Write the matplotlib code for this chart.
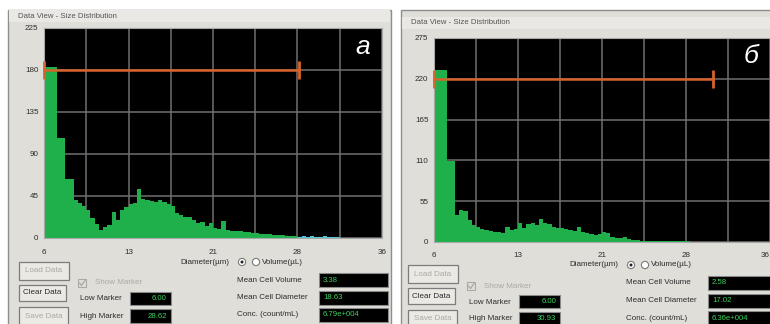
import numpy as np
import matplotlib
matplotlib.use("Agg")
import matplotlib.pyplot as plt
from matplotlib.patches import Rectangle, Circle

W, H = 770, 324

# histogram bins (diameter, um)
bin_start = 6.0
bin_width = 0.375

counts_a = [183, 183, 183, 107, 107, 63, 63, 41, 37, 34,
            30, 21, 15, 9, 12, 14, 28, 19, 30, 33,
            36, 38, 53, 42, 41, 40, 39, 41, 39, 36,
            34, 27, 25, 23, 22, 19, 16, 17, 13, 16,
            11, 10, 18, 9, 8, 8, 7, 6, 6, 5,
            5, 4, 4, 4, 3, 3, 3, 2, 2, 2,
            0, 0, 0, 0, 0, 0, 0, 0, 0, 0,
            0, 0, 0, 0, 0, 0, 0, 0, 0, 0]
cyan_start = 28.5
cyan_a = [1.5, 2, 1, 2, 1.5, 1, 2, 1, 1.5, 1]

counts_b = [232, 232, 232, 109, 109, 36, 43, 42, 30, 23,
            20, 18, 16, 15, 14, 13, 12, 20, 16, 17,
            25, 19, 24, 25, 23, 31, 26, 24, 20, 19,
            19, 17, 16, 15, 20, 13, 12, 11, 10, 11,
            13, 12, 7, 6, 5, 7, 4, 3, 3, 2,
            1, 1, 1, 1, 1, 1, 1, 1, 1, 1,
            1, 0, 0, 0, 0, 0, 0, 0, 0, 0,
            0, 0, 0, 0, 0, 0, 0, 0, 0, 0]

xticks = [6, 13.5, 21, 28.5, 36]
xtick_labels = ["6", "13", "21", "28", "36"]
yticks_a = [0, 45, 90, 135, 180, 225]
yticks_b = [0, 55, 110, 165, 220, 275]

marker_a = (6.00, 28.62, 180)
marker_b = (6.00, 30.93, 220)
low_high_a = ["6.00", "28.62"]
low_high_b = ["6.00", "30.93"]
stats_a = ["3.38", "18.63", "6.79e+004"]
stats_b = ["2.58", "17.02", "6.36e+004"]
stat_names = ["Mean Cell Volume", "Mean Cell Diameter", "Conc. (count/mL)"]

GREEN = "#1fb04c"
ORANGE = "#d8622c"
PANEL = "#dfded8"
TXT = "#2c2c2c"
GREY_TXT = "#aaaaa4"
FONT = "Liberation Sans"

fig = plt.figure(figsize=(W / 100, H / 100), dpi=100)
fig.patch.set_facecolor("white")

bg = fig.add_axes([0, 0, 1, 1])
bg.set_xlim(0, W)
bg.set_ylim(H, 0)
bg.axis("off")


def px_axes(x0, y0, x1, y1):
    return fig.add_axes([x0 / W, 1 - y1 / H, (x1 - x0) / W, (y1 - y0) / H])


def button(x0, y0, x1, y1, label, enabled):
    bg.add_patch(Rectangle((x0, y0), x1 - x0, y1 - y0, facecolor="#eae9e4",
                           edgecolor="#7c7c7c", lw=0.9))
    bg.text((x0 + x1) / 2, (y0 + y1) / 2, label, ha="center", va="center",
            fontsize=5.8, family=FONT, color=TXT if enabled else GREY_TXT)


def value_box(x0, y0, x1, y1, val, align):
    bg.add_patch(Rectangle((x0, y0), x1 - x0, y1 - y0, facecolor="black",
                           edgecolor="#8a8a8a", lw=0.8))
    if align == "right":
        bg.text(x1 - 4, (y0 + y1) / 2, val, ha="right", va="center",
                fontsize=5.6, family=FONT, color="#3bd35a")
    else:
        bg.text(x0 + 4, (y0 + y1) / 2, val, ha="left", va="center",
                fontsize=5.6, family=FONT, color="#3bd35a")


def panel(fx0, title_y, rect, counts, yticks, marker, low_high, stats,
          letter, dx, dy, cyan=None, last_ha="center"):
    # window frame
    bg.add_patch(Rectangle((fx0, 10), 383, 320, facecolor=PANEL,
                           edgecolor="#8e8e8e", lw=1.0))
    bg.add_patch(Rectangle((fx0 + 1, title_y - 6), 381, 12,
                           facecolor="#e9e8e4", edgecolor="none"))
    bg.text(fx0 + 10, title_y, "Data View - Size Distribution", ha="left",
            va="center", fontsize=5.6, family=FONT, color="#555555")

    ax = px_axes(*rect)
    ax.set_facecolor("black")
    edges = bin_start + bin_width * np.arange(len(counts) + 1)
    ax.stairs(counts, edges, fill=True, color=GREEN, zorder=2)
    if cyan is not None:
        cedges = cyan_start + bin_width * np.arange(len(cyan) + 1)
        ax.stairs(cyan, cedges, fill=True, color="#4cc8dc", zorder=2)
    ax.set_xlim(6, 36)
    ax.set_ylim(0, yticks[-1])
    ax.set_xticks(np.arange(6, 36.01, 3.75))
    ax.set_xticklabels(["" for _ in range(9)])
    ax.set_yticks(yticks)
    ax.set_yticklabels([str(v) for v in yticks], fontsize=5.8, family=FONT,
                       color=TXT)
    ax.tick_params(length=0, pad=4)
    ax.grid(True, color="#707070", lw=1.1, zorder=1)
    ax.set_axisbelow(True)
    for s in ax.spines.values():
        s.set_color("#a8a8a8")
        s.set_linewidth(0.8)
    for i, (xv, lab) in enumerate(zip(xticks, xtick_labels)):
        ha = last_ha if i == len(xticks) - 1 else "center"
        ax.text(xv, -0.05, lab, transform=ax.get_xaxis_transform(),
                ha=ha, va="top", fontsize=5.8, family=FONT, color=TXT)

    lo, hi, my = marker
    ax.plot([lo, hi], [my, my], color=ORANGE, lw=1.8, zorder=4,
            clip_on=False)
    ax.plot([lo, hi], [my, my], ls="none", marker="|", ms=13, mew=2,
            color=ORANGE, zorder=4, clip_on=False)
    ax.text(0.965, 0.91, letter, transform=ax.transAxes, ha="right",
            va="center", fontsize=19, family=FONT, style="italic",
            color="white")

    # controls below the plot
    bg.text(229 + dx, 262 + dy, "Diameter(\u00b5m)", ha="right", va="center",
            fontsize=5.8, family=FONT, color=TXT)
    bg.add_patch(Circle((242 + dx, 262 + dy), 3.6, facecolor="white",
                        edgecolor="#7a7a7a", lw=0.8))
    bg.add_patch(Circle((242 + dx, 262 + dy), 1.5, facecolor="#222222",
                        edgecolor="none"))
    bg.add_patch(Circle((256 + dx, 262 + dy), 3.6, facecolor="white",
                        edgecolor="#7a7a7a", lw=0.8))
    bg.text(262 + dx, 262 + dy, "Volume(\u00b5L)", ha="left", va="center",
            fontsize=5.8, family=FONT, color=TXT)

    button(19 + dx, 262 + dy, 69 + dx, 280 + dy, "Load Data", False)
    button(19 + dx, 285 + dy, 66 + dx, 301 + dy, "Clear Data", True)
    button(19 + dx, 307 + dy, 68 + dx, 325 + dy, "Save Data", False)

    bg.add_patch(Rectangle((78 + dx, 279 + dy), 8, 8, facecolor=PANEL,
                           edgecolor=GREY_TXT, lw=0.8))
    bg.plot([79.5 + dx, 81.5 + dx, 85 + dx], [283 + dy, 285.5 + dy, 280.5 + dy],
            color=GREY_TXT, lw=0.9)
    bg.text(95 + dx, 283 + dy, "Show Marker", ha="left", va="center",
            fontsize=5.8, family=FONT, color=GREY_TXT)

    bg.text(80 + dx, 299 + dy, "Low Marker", ha="left", va="center",
            fontsize=5.8, family=FONT, color=TXT)
    value_box(130 + dx, 292 + dy, 171 + dx, 305 + dy, low_high[0], "right")
    bg.text(80 + dx, 316 + dy, "High Marker", ha="left", va="center",
            fontsize=5.8, family=FONT, color=TXT)
    value_box(130 + dx, 309 + dy, 171 + dx, 323 + dy, low_high[1], "right")

    for i, (name, val) in enumerate(zip(stat_names, stats)):
        yc = 280 + 17.5 * i + dy
        bg.text(237 + dx, yc, name, ha="left", va="center", fontsize=5.8,
                family=FONT, color=TXT)
        value_box(319 + dx, yc - 7, 388 + dx, yc + 7, val, "left")
    return ax


panel(8, 16, (44, 28, 382, 238), counts_a, yticks_a, marker_a, low_high_a,
      stats_a, "a", 0, 0, cyan=cyan_a)
panel(401, 23, (434, 38, 770, 242), counts_b, yticks_b, marker_b, low_high_b,
      stats_b, "\u0431", 389, 3, last_ha="right")

fig.savefig("out.png", dpi=100, facecolor="white")
